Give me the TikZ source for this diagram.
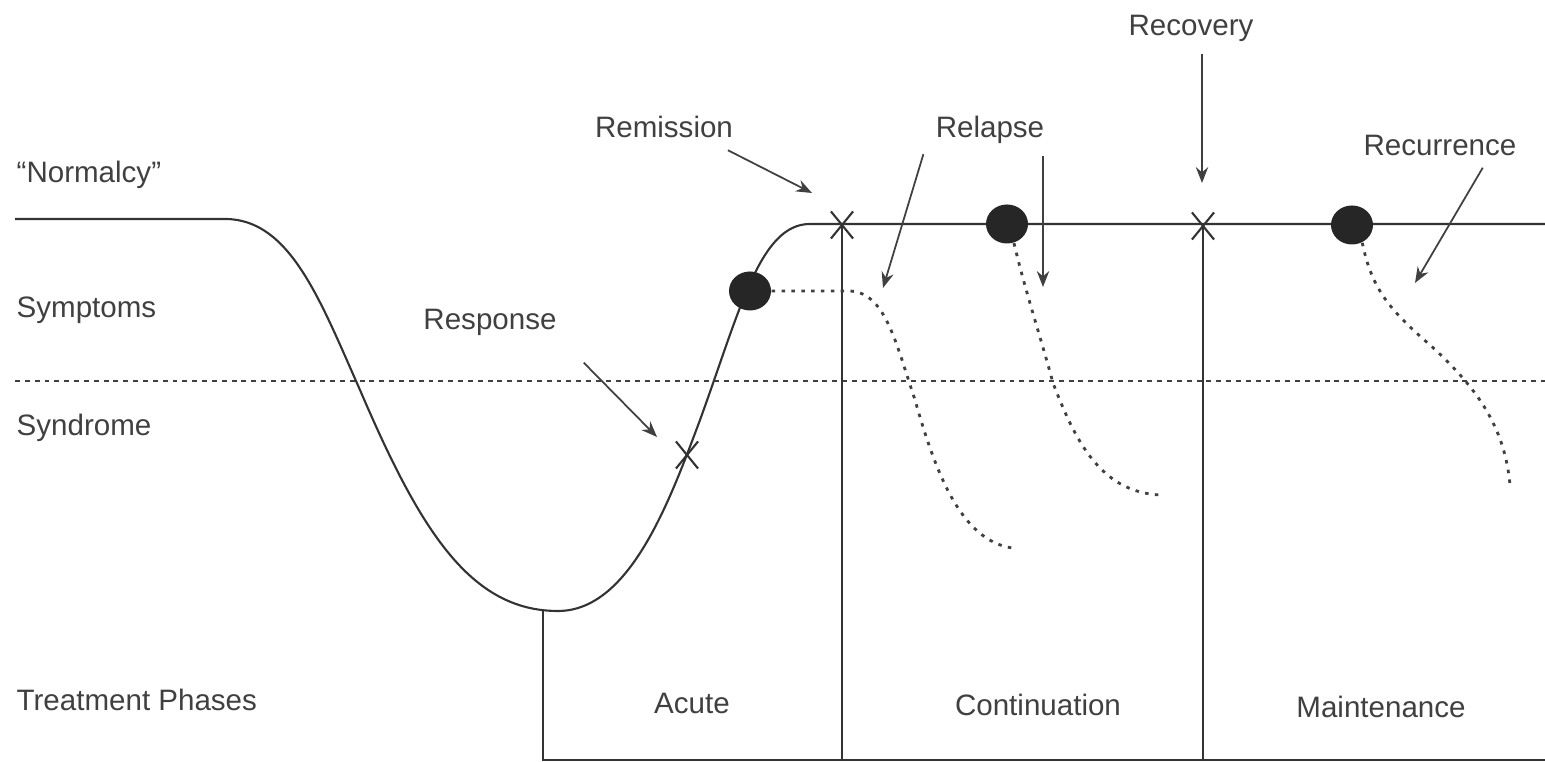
\documentclass[tikz,border=0pt]{standalone}
\usepackage{fontspec}
\setmainfont{Liberation Sans}
\usetikzlibrary{shapes.misc,shapes.geometric,arrows.meta}

\begin{document}
\begin{tikzpicture}[x=0.01cm,y=-0.01cm]

% definitions
\tikzstyle{rowtext} = [anchor=west, inner sep=0pt, font=\fontsize{8.4}{10}\selectfont, text=black!75]

\tikzstyle{marktext} = [font=\fontsize{8.4}{10}\selectfont, text=black!75]

\tikzstyle{phasetext} = [font=\fontsize{8.4}{10}\selectfont, text=black!75]

\tikzstyle{course} = [draw=black!80, line width=0.6pt]

\tikzstyle{phaseline} = [draw=black!80, line width=0.6pt]

\tikzstyle{threshold} = [draw=black!75, line width=0.7pt, dash pattern=on 1.4pt off 1.4pt]

\tikzstyle{relapsepath} = [draw=black!75, line width=0.8pt, dash pattern=on 1pt off 1.8pt]

\tikzstyle{xmark} = [cross out, draw=black!80, line width=0.6pt, minimum width=0.2cm, minimum height=0.25cm, inner sep=0pt]

\tikzstyle{event} = [ellipse, fill=black!85, minimum width=0.42cm, minimum height=0.39cm, inner sep=0pt]

\tikzstyle{arrow} = [->, >={Stealth[length=4.5pt,width=3.5pt]}, draw=black!75, line width=0.5pt]

\useasboundingbox (0,0) rectangle (1545,762);

% row labels
\node (normalcy) [rowtext] at (16,175) {``Normalcy''};

\node (symptoms) [rowtext] at (16,310) {Symptoms};

\node (syndrome) [rowtext] at (16,428) {Syndrome};

\node (phases) [rowtext] at (16,700) {Treatment Phases};

% course of the illness
\draw [course] (15,219) -- (225,219) .. controls (290,219) and (320,300) .. (360,390) .. controls (420,530) and (470,611) .. (558,611) .. controls (630,611) and (670,500) .. (700,420) .. controls (740,310) and (760,224) .. (810,224) -- (1545,224);

\draw [threshold] (15,381) -- (1545,381);

% treatment phases
\coordinate (c0) at (543,611);
\coordinate (b0) at (543,760);
\coordinate (b1) at (1545,760);

\node (xresp) [xmark] at (687,455) {};
\node (xremi) [xmark] at (842,225) {};
\node (xreco) [xmark] at (1203,226) {};

\draw [phaseline] (c0) -- (b0) -- (b1);
\draw [phaseline] (xremi.center) -- (xremi.center |- b0);
\draw [phaseline] (xreco.center) -- (xreco.center |- b0);

\node (acute) [phasetext] at (692,703) {Acute};

\node (continuation) [phasetext] at (1038,705) {Continuation};

\node (maintenance) [phasetext] at (1381,707) {Maintenance};

% events
\node (dot1) [event] at (750,291) {};
\node (dot2) [event] at (1007,224) {};
\node (dot3) [event] at (1352,225) {};

\coordinate (r1end) at (1012,548);
\coordinate (r2end) at (1160,495);
\coordinate (r3end) at (1510,485);

\draw [relapsepath] (dot1.east) -- (850,291) .. controls (885,293) and (895,340) .. (915,400) .. controls (935,470) and (960,540) .. (r1end);
\draw [relapsepath] (dot2.-70) .. controls (1025,290) and (1040,335) .. (1053,383) .. controls (1075,440) and (1100,492) .. (r2end);
\draw [relapsepath] (dot3.-60) .. controls (1372,290) and (1390,310) .. (1430,345) .. controls (1480,390) and (1505,430) .. (r3end);

% event labels
\node (remission) [marktext] at (664,127) {Remission};

\node (response) [marktext] at (490,322) {Response};

\node (relapse) [marktext] at (990,130) {Relapse};

\node (recovery) [marktext] at (1191,28) {Recovery};

\node (recurrence) [marktext] at (1440,145) {Recurrence};

\coordinate (remtip) at (812,193);
\coordinate (resptip) at (657,437);
\coordinate (reltip1) at (883,288);
\coordinate (reltip2) at (1043,287);
\coordinate (recotip) at (1202,183);
\coordinate (recutip) at (1415,283);

\draw [arrow] (remission.-20) -- (remtip);
\draw [arrow, shorten <=6pt] (response.south east) -- (resptip);
\draw [arrow] (relapse.-160) -- (reltip1);
\draw [arrow] (reltip2 |- relapse.south) -- (reltip2);
\draw [arrow] (recotip |- recovery.south) -- (recotip);
\draw [arrow] (recurrence.-28) -- (recutip);

\end{tikzpicture}
\end{document}
